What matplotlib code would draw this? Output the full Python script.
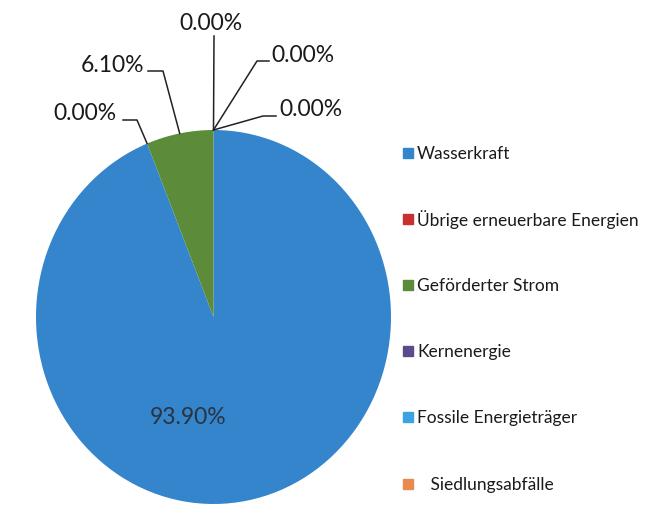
import matplotlib
matplotlib.use("Agg")
import matplotlib.pyplot as plt
from matplotlib.patches import Rectangle
import numpy as np

# data
categories = ["Wasserkraft", "Übrige erneuerbare Energien", "Geförderter Strom",
              "Kernenergie", "Fossile Energieträger", "   Siedlungsabfälle"]
shares = [93.9, 0.0, 6.1, 0.0, 0.0, 0.0]
colors = ["#3585cd", "#c9302f", "#5c8c3a", "#5c4a8b", "#3ba2e4", "#ea8a4e"]

W, H = 645, 506
plt.rcParams['font.family'] = ['Lato', 'DejaVu Sans']
fig = plt.figure(figsize=(W / 100, H / 100), dpi=100)

def fx(x):
    return x / W

def fy(y):
    return 1 - y / H

# pie area in pixels (slightly stretched vertically, like the scan)
left, right, top, bottom = 36, 391, 131, 505
ax = fig.add_axes([fx(left), fy(bottom), (right - left) / W, (bottom - top) / H])
wedges, _ = ax.pie(shares, colors=colors, startangle=90, counterclock=False,
                   radius=1.0, wedgeprops=dict(linewidth=0))
ax.set_aspect('auto')
ax.set_xlim(-1, 1)
ax.set_ylim(-1, 1)
ax.axis('off')

to_fig = ax.transData + fig.transFigure.inverted()

# label placement (pixels, top-down): text centre, line path towards the pie
label_text = [(188, 418), (85, 114), (112, 65), (211, 23), (303, 55), (311, 109)]
label_path = [None,
              [(123, 121), (137, 121)],
              [(148, 72), (163, 72)],
              [(214, 37)],
              [(269, 62), (257, 62)],
              [(276, 117), (263, 117)]]

for w, val, (tx, ty), path in zip(wedges, shares, label_text, label_path):
    fig.text(fx(tx), fy(ty), f"{val:.2f}%", ha='center', va='center',
             fontsize=16.5, color='#1a1a1a' if path else '#2a3340')
    if path is None:
        continue
    mid = np.deg2rad((w.theta1 + w.theta2) / 2)
    ax_pt = to_fig.transform((np.cos(mid), np.sin(mid)))
    xs = [fx(p[0]) for p in path] + [ax_pt[0]]
    ys = [fy(p[1]) for p in path] + [ax_pt[1]]
    fig.add_artist(plt.Line2D(xs, ys, color='#222222', lw=1.1,
                              transform=fig.transFigure))

# legend
row_y = [154, 220, 286, 352, 418, 485]
for name, c, y in zip(categories, colors, row_y):
    fig.add_artist(Rectangle((fx(403), fy(y + 5)), 10 / W, 10 / H, color=c,
                             transform=fig.transFigure))
    fig.text(fx(417), fy(y), name, ha='left', va='center', fontsize=12.5,
             color='#1a1a1a')

fig.savefig("out.png", dpi=100)
